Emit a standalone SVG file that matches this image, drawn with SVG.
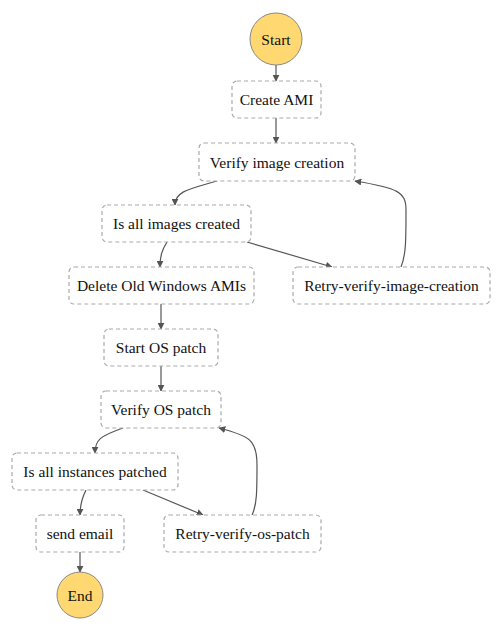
<svg xmlns="http://www.w3.org/2000/svg" width="503" height="630" viewBox="0 0 503 630">
<style>
.box{fill:#fff;stroke:#aaa;stroke-width:1.2;stroke-dasharray:4 3}
.term{fill:#ffd872;stroke:#888;stroke-width:1}
.edge{fill:none;stroke:#555;stroke-width:1.2;marker-end:url(#arr)}
</style>
<defs>
<marker id="arr" viewBox="0 0 10 10" refX="9" refY="5" markerWidth="7" markerHeight="7" markerUnits="userSpaceOnUse" orient="auto">
<path d="M0,0 L10,5 L0,10 z" fill="#555"/>
</marker>
</defs>
<rect width="503" height="630" fill="#fff"/>
<g id="connectors">
<path class="edge" d="M276,65 L276,81"/>
<path class="edge" d="M276,118 L276,143"/>
<path class="edge" d="M217,181 C190,189 175,191 175,205"/>
<path class="edge" d="M167,242 C162,250 160,256 160,267"/>
<path class="edge" d="M247,242 L332,267"/>
<path class="edge" d="M401,267 C406,255 406,240 406,210 C406,192 398,188 355,181"/>
<path class="edge" d="M161,304 L161,329"/>
<path class="edge" d="M161,366 L161,391"/>
<path class="edge" d="M123,428 C100,436 95,440 95,453"/>
<path class="edge" d="M86,490 C82,498 80,504 80,515"/>
<path class="edge" d="M143,490 L203,515"/>
<path class="edge" d="M252,515 C257,505 257,490 257,465 C257,440 250,436 219,428"/>
<path class="edge" d="M80,552 L80,572"/>
</g>
<g font-family="Liberation Serif" font-size="15.5" fill="#111" text-anchor="middle">
<g id="start"><circle class="term" cx="276" cy="39" r="26"/><text x="276" y="44.5">Start</text></g>
<g id="create-ami"><rect class="box" x="232" y="81" width="89" height="37" rx="5"/><text x="276.5" y="105">Create AMI</text></g>
<g id="verify-image-creation"><rect class="box" x="199" y="143" width="156" height="38" rx="5"/><text x="277" y="167.5">Verify image creation</text></g>
<g id="is-all-images-created"><rect class="box" x="102" y="205" width="149" height="37" rx="5"/><text x="176.5" y="229">Is all images created</text></g>
<g id="delete-old-windows-amis"><rect class="box" x="69" y="267" width="185" height="37" rx="5"/><text x="161.5" y="291">Delete Old Windows AMIs</text></g>
<g id="retry-verify-image-creation"><rect class="box" x="293" y="267" width="197" height="37" rx="5"/><text x="391.5" y="291">Retry-verify-image-creation</text></g>
<g id="start-os-patch"><rect class="box" x="104" y="329" width="114" height="37" rx="5"/><text x="161" y="353">Start OS patch</text></g>
<g id="verify-os-patch"><rect class="box" x="101" y="391" width="120" height="37" rx="5"/><text x="161" y="415">Verify OS patch</text></g>
<g id="is-all-instances-patched"><rect class="box" x="12" y="453" width="166" height="37" rx="5"/><text x="95" y="477">Is all instances patched</text></g>
<g id="send-email"><rect class="box" x="36" y="515" width="88" height="37" rx="5"/><text x="80" y="539">send email</text></g>
<g id="retry-verify-os-patch"><rect class="box" x="164" y="515" width="157" height="37" rx="5"/><text x="242.5" y="539">Retry-verify-os-patch</text></g>
<g id="end"><circle class="term" cx="80" cy="595" r="23"/><text x="80" y="600.5">End</text></g>
</g>
</svg>
